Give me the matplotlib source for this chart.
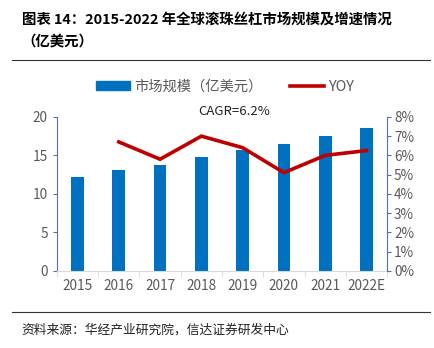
import matplotlib.pyplot as plt
from matplotlib.lines import Line2D
import numpy as np

plt.rcParams['font.family'] = ['Noto Sans CJK SC', 'DejaVu Sans']

years = ["2015", "2016", "2017", "2018", "2019", "2020", "2021", "2022E"]
market_size = [12.2, 13.1, 13.8, 14.8, 15.7, 16.5, 17.5, 18.6]
yoy_years = ["2016", "2017", "2018", "2019", "2020", "2021", "2022E"]
yoy = [6.7, 5.8, 7.0, 6.4, 5.1, 6.0, 6.25]

BAR_COLOR = "#0070C0"
LINE_COLOR = "#C00000"
TEXT_GRAY = "#595959"
AXIS_BLUE = "#4F6FBF"

fig = plt.figure(figsize=(4.34, 3.48), dpi=100)
ax = fig.add_axes([0.131, 0.222, 0.761, 0.442])
x = np.arange(len(years))
ax.bar(x, market_size, width=0.31, color=BAR_COLOR, zorder=2)
ax.set_xlim(-0.5, len(years) - 0.5)
ax.set_ylim(0, 20)
ax.set_yticks([0, 5, 10, 15, 20])
ax.set_xticks(x)
ax.set_xticklabels(years)
ax.set_xticks(np.arange(-0.5, len(years), 1), minor=True)
ax.tick_params(axis="x", which="major", length=0, pad=6, labelsize=9.8, labelcolor=TEXT_GRAY)
ax.tick_params(axis="x", which="minor", length=4, color="#D9D9D9")
ax.tick_params(axis="y", length=3, color=AXIS_BLUE, labelsize=9.8, labelcolor=TEXT_GRAY)
for s in ["top", "right"]:
    ax.spines[s].set_visible(False)
ax.spines["left"].set_color(AXIS_BLUE)
ax.spines["bottom"].set_color("#D9D9D9")

ax2 = ax.twinx()
xi = [years.index(y) for y in yoy_years]
ax2.plot(xi, yoy, color=LINE_COLOR, linewidth=2.6, solid_joinstyle="miter", zorder=3)
ax2.set_ylim(0, 8)
ax2.set_yticks(range(0, 9))
ax2.set_yticklabels([f"{v}%" for v in range(0, 9)])
ax2.tick_params(axis="y", length=3, color=AXIS_BLUE, labelsize=9.8, labelcolor=TEXT_GRAY, pad=2)
for s in ["top", "left", "bottom"]:
    ax2.spines[s].set_visible(False)
ax2.spines["right"].set_color(AXIS_BLUE)

fig.text(0.539, 0.68, "CAGR=6.2%", ha="center", va="center", fontsize=9.5, color="#222222")

handles = [plt.Rectangle((0, 0), 1, 1, color=BAR_COLOR),
           Line2D([0], [0], color=LINE_COLOR, linewidth=2.6)]
fig.legend(handles, ["市场规模（亿美元）", "YOY"], loc="center", bbox_to_anchor=(0.518, 0.751),
           ncol=2, frameon=False, fontsize=10.3, labelcolor=TEXT_GRAY,
           handlelength=2.4, handleheight=0.5, handletextpad=0.3, columnspacing=1.9)

fig.text(0.05, 0.943, "图表 14：2015-2022 年全球滚珠丝杠市场规模及增速情况",
         fontsize=10.4, fontweight="bold", ha="left", va="center")
fig.text(0.05, 0.88, "（亿美元）", fontsize=10.4, fontweight="bold", ha="left", va="center")
fig.add_artist(Line2D([0.028, 0.99], [0.828, 0.828], color="#333333", linewidth=0.8))
fig.add_artist(Line2D([0.028, 0.99], [0.103, 0.103], color="#333333", linewidth=0.8))
fig.text(0.05, 0.052, "资料来源：华经产业研究院，信达证券研发中心", fontsize=9.2,
         ha="left", va="center", color="#222222")

fig.savefig("out.png", dpi=100)
